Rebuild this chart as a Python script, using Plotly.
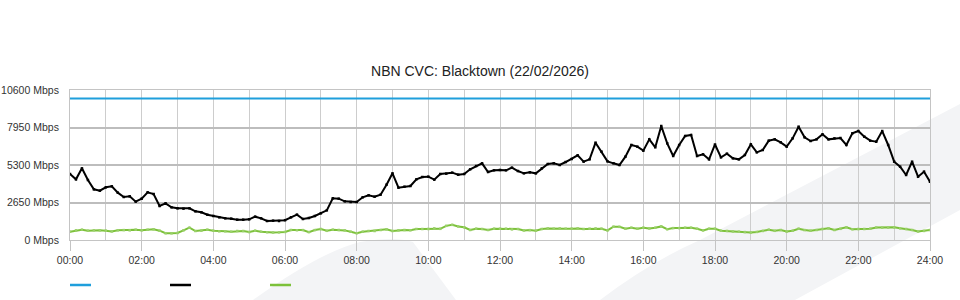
import plotly.graph_objects as go

# ---------------- data ----------------
title = "NBN CVC: Blacktown (22/02/2026)"
interval_min = 10          # sample spacing in minutes
capacity_mbps = 10000      # CVC capacity (blue line)

# total traffic (black line), Mbps, 00:00 .. 24:00 every 10 min
traffic_mbps = [
    4664, 4287, 5065, 4240, 3580, 3486, 3722, 3793, 3345, 3040,
    3086, 2709, 2921, 3368, 3251, 2403, 2591, 2309, 2238, 2215,
    2238, 2026, 1955, 1790, 1696, 1602, 1531, 1508, 1437, 1437,
    1460, 1649, 1531, 1343, 1366, 1343, 1400, 1602, 1790, 1484,
    1555, 1696, 1884, 2096, 2945, 2921, 2732, 2686, 2686, 3015,
    3157, 3062, 3204, 3910, 4711, 3698, 3769, 3816, 4287, 4452,
    4476, 4264, 4664, 4688, 4759, 4617, 4664, 4994, 5229, 5418,
    4806, 4923, 4950, 4923, 5111, 4876, 4711, 4782, 4711, 5065,
    5371, 5418, 5300, 5512, 5724, 5983, 5536, 5700, 6878, 6243,
    5559, 5418, 5300, 5889, 6714, 6596, 6313, 7113, 6549, 8056,
    6831, 5936, 6714, 7350, 7420, 5936, 6054, 5700, 6750, 5842,
    6101, 5771, 5700, 6007, 6760, 6195, 6360, 7019, 7113, 6901,
    6596, 7184, 8009, 7255, 6996, 7113, 7467, 7113, 7184, 7208,
    6714, 7538, 7703, 7302, 7019, 6948, 7700, 6714, 5536, 5182,
    4594, 5536, 4476, 4829, 4122,
]

# upload traffic (green line), Mbps
upload_mbps = [
    589, 683, 730, 660, 683, 683, 660, 610, 683, 700,
    683, 730, 683, 730, 754, 660, 480, 471, 495, 683,
    870, 636, 660, 730, 660, 613, 613, 589, 636, 636,
    560, 660, 589, 550, 530, 540, 570, 707, 690, 700,
    560, 700, 777, 650, 730, 707, 680, 589, 480, 589,
    636, 636, 707, 754, 636, 683, 707, 690, 777, 777,
    777, 824, 790, 1000, 1070, 960, 900, 707, 800, 777,
    707, 800, 800, 800, 750, 777, 680, 700, 660, 777,
    820, 800, 820, 800, 800, 820, 777, 800, 820, 800,
    680, 942, 930, 800, 870, 800, 870, 820, 870, 960,
    760, 840, 840, 870, 870, 800, 680, 800, 800, 660,
    640, 600, 589, 560, 530, 570, 640, 730, 650, 707,
    600, 660, 800, 700, 660, 707, 780, 824, 707, 790,
    895, 760, 777, 777, 800, 880, 872, 880, 895, 824,
    777, 707, 600, 640, 700,
]

y_tick_values = [0, 2650, 5300, 7950, 10600]
y_tick_labels = [f"{v} Mbps" for v in y_tick_values]
x_tick_hours = list(range(0, 25, 2))
x_tick_labels = [f"{h:02d}:00" for h in x_tick_hours]

# ---------------- styling ----------------
BLUE = "#1f9fdc"
BLACK = "#000000"
GREEN = "#7cc13a"
WATERMARK = "#f3f4f6"
FONT = "Liberation Sans, Arial, sans-serif"

W, H = 960, 300
ML, MR, MT, MB = 70, 30, 90, 60
PW, PH = W - ML - MR, H - MT - MB

hours = [i * interval_min / 60 for i in range(len(traffic_mbps))]


def px(x, y):
    """page pixel -> paper coordinate string"""
    return f"{(x - ML) / PW:.4f},{(H - MB - y) / PH:.4f}"


fig = go.Figure()
fig.add_trace(go.Scatter(
    x=hours, y=[capacity_mbps] * len(hours), mode="lines",
    line=dict(color=BLUE, width=2), hoverinfo="skip", showlegend=False))
fig.add_trace(go.Scatter(
    x=hours, y=traffic_mbps, mode="lines+markers",
    line=dict(color=BLACK, width=2), marker=dict(color=BLACK, size=2.5, symbol="square"),
    hoverinfo="skip", showlegend=False))
fig.add_trace(go.Scatter(
    x=hours[:len(upload_mbps)], y=upload_mbps, mode="lines+markers",
    line=dict(color=GREEN, width=2), marker=dict(color="#9ad06a", size=2.5, symbol="square"),
    hoverinfo="skip", showlegend=False))

shapes = []
# background watermark (decorative)
left_path = (f"M {px(253,300)} Q {px(320,252)} {px(360,242)} Q {px(395,236)} {px(413,242)} "
             f"L {px(456,300)} Z")
band_path = (f"M {px(600,300)} Q {px(650,262)} {px(700,240)} L {px(960,104)} "
             f"L {px(960,210)} L {px(795,300)} Z")
for p in (left_path, band_path):
    shapes.append(dict(type="path", path=p, xref="paper", yref="paper",
                       fillcolor=WATERMARK, line=dict(width=0), layer="below"))
# legend swatches (no labels in original)
for i, col in enumerate([BLUE, BLACK, GREEN]):
    x0 = 70 + i * 100
    shapes.append(dict(type="line", xref="paper", yref="paper",
                       x0=(x0 - ML) / PW, x1=(x0 + 21 - ML) / PW,
                       y0=(H - MB - 285) / PH, y1=(H - MB - 285) / PH,
                       line=dict(color=col, width=2.5)))

fig.update_layout(
    width=W, height=H,
    margin=dict(l=ML, r=MR, t=MT, b=MB, pad=0, autoexpand=False),
    paper_bgcolor="white", plot_bgcolor="rgba(0,0,0,0)",
    font=dict(family=FONT, size=10.5, color="#333333"),
    title=dict(text=title, x=0.5, xanchor="center", xref="container",
               y=1 - 71 / H, yanchor="middle", yref="container",
               font=dict(family=FONT, size=14, color="#222222")),
    showlegend=False,
    shapes=shapes,
    xaxis=dict(
        range=[0, 24], tickmode="array", tickvals=x_tick_hours, ticktext=x_tick_labels,
        ticks="outside", ticklen=10, tickcolor="#c4c4c4", tickwidth=1,
        showgrid=True, gridcolor="#cdcdcd", gridwidth=1,
        minor=dict(tickmode="linear", tick0=0, dtick=1, showgrid=True,
                   gridcolor="#cdcdcd", gridwidth=1, ticks=""),
        showline=True, linecolor="#c4c4c4", linewidth=1, mirror=True,
        zeroline=False, automargin=False, tickfont=dict(size=10.5, color="#333333"),
        fixedrange=True),
    yaxis=dict(
        range=[0, 10600], tickmode="array", tickvals=y_tick_values, ticktext=y_tick_labels,
        ticks="", showgrid=True, gridcolor="#bdbdbd", gridwidth=1.5,
        showline=True, linecolor="#c4c4c4", linewidth=1, mirror=True,
        zeroline=False, automargin=False, ticklabelstandoff=8,
        tickfont=dict(size=10.5, color="#333333"), fixedrange=True),
)

fig.write_html("out.html")
